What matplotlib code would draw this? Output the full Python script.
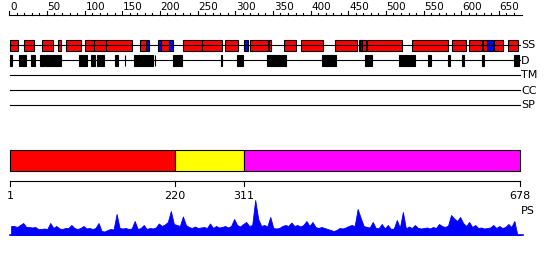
import numpy as np
import matplotlib
matplotlib.use("Agg")
import matplotlib.pyplot as plt
from matplotlib.patches import Rectangle

seq_len = 678

# secondary structure (start, end) in residues
helices = [(1, 11), (19, 33), (44, 58), (65, 69), (75, 95), (100, 113), (113, 128),
           (128, 163), (173, 182), (202, 212), (230, 256), (256, 283), (286, 304),
           (320, 343), (345, 348), (365, 380), (387, 416), (432, 461), (464, 473),
           (475, 521), (534, 583), (588, 606), (610, 627), (629, 634), (644, 655),
           (662, 675)]
strands = [(182, 185), (198, 202), (212, 218), (311, 317), (466, 468), (634, 642)]

# disordered regions
disorder = [(1, 4), (13, 22), (29, 34), (41, 46), (48, 69), (93, 103), (109, 114),
            (116, 126), (141, 144), (153, 154), (165, 191), (193, 194), (217, 229),
            (281, 283), (302, 310), (342, 368), (415, 434), (472, 481), (518, 538),
            (556, 560), (583, 585), (601, 603), (627, 630), (670, 677)]

# domain segments
dom_start = [1, 220, 311]
dom_end = [220, 311, 678]
dom_colors = ["#ff0000", "#ffff00", "#ff00ff"]
dom_ticks = [1, 220, 311, 678]

# PS profile, one value per 4 residues
ps_score = [9, 9, 8, 10, 12, 8, 8, 7.5, 8, 6, 6, 6.5, 6, 12, 7, 9, 6.5, 6, 7, 7,
            10, 7, 6, 7, 9, 6.5, 7, 6, 7, 12, 4, 3.5, 5, 6, 5.5, 21, 7, 6.5, 7, 6,
            6.5, 14, 6, 7, 10, 6, 7, 6.5, 7.5, 11.5, 9, 10.5, 13, 24, 11, 10, 9, 18.5, 10, 8,
            7, 8.5, 7, 7.5, 8, 7, 11.5, 7, 9, 7.5, 8, 9, 7.5, 9, 16, 10, 8.5, 11, 13, 9,
            10, 35, 16, 9, 10, 8.5, 18, 7, 6.5, 7, 9, 10, 9, 12.5, 9, 10, 8.5, 10, 14, 9,
            13, 8, 7, 8, 7, 6, 5, 4, 5, 7, 6.5, 7.5, 9, 10, 9, 26, 17, 9, 8, 7.5,
            13, 7, 7, 11, 6.5, 10, 6, 6.5, 15, 7, 23, 6.5, 8.5, 7, 10, 7, 6.5, 7, 7.5, 6.5,
            8, 7, 11, 9, 8, 9.5, 20, 16.5, 14, 18, 12, 9, 13, 8, 10, 7, 7.5, 6.5, 7, 7.5,
            10, 7, 9, 7, 8, 11, 8, 14, 0, 0]

scale = 510 / 677.0


def px2res(px):
    return 1 + (px - 10) / scale


fig = plt.figure(figsize=(5.5, 2.6), dpi=100)
ax = fig.add_axes([0, 0, 1, 1])
ax.set_xlim(px2res(0), px2res(550))
ax.set_ylim(260, 0)
ax.axis("off")

lw = 0.8
x_end = seq_len
x_lab = px2res(521)

# ruler
ax.plot([0, px2res(521.5)], [15, 15], color="black", lw=lw)
for t in range(0, 680, 10):
    h = 4 if t % 50 == 0 else 2.5
    ax.plot([t, t], [15, 15 - h], color="black", lw=lw)
    if t % 50 == 0:
        ax.text(t + 1, 6.5, str(t), fontsize=7.5, ha="left", va="center")

# SS track
ax.plot([1, x_end], [45, 45], color="black", lw=lw)
for s, e in helices:
    ax.add_patch(Rectangle((s, 40), e - s, 11, facecolor="#ff0000", edgecolor="black", lw=lw))
for s, e in strands:
    ax.add_patch(Rectangle((s, 40), e - s, 11, facecolor="#0000ff", edgecolor="black", lw=lw))
ax.text(x_lab, 45.5, "SS", fontsize=8, ha="left", va="center")

# disorder track
ax.plot([1, x_end], [60, 60], color="black", lw=lw)
for s, e in disorder:
    ax.add_patch(Rectangle((s, 55), e - s, 11, facecolor="black", edgecolor="black", lw=lw))
ax.text(x_lab, 60.5, "D", fontsize=8, ha="left", va="center")

# empty tracks
for y, name in [(75, "TM"), (90, "CC"), (105, "SP")]:
    ax.plot([1, x_end], [y, y], color="black", lw=lw)
    ax.text(x_lab, y + 0.5, name, fontsize=8, ha="left", va="center")

# domains
for s, e, c in zip(dom_start, dom_end, dom_colors):
    ax.add_patch(Rectangle((s, 150), e - s, 21, facecolor=c, edgecolor="black", lw=lw))

ax.plot([1, x_end], [181, 181], color="black", lw=lw)
for t in dom_ticks:
    ax.plot([t, t], [181, 186], color="black", lw=lw)
    ax.text(t, 196, str(t), fontsize=8, ha="center", va="center")

# PS profile
ps = np.array(ps_score)
pos = np.arange(len(ps)) * 4 + 2.5
ax.fill_between(pos, 235, 235 - ps, color="#0000ff", lw=0.6, edgecolor="#0000ff")
ax.plot([1, px2res(523)], [235, 235], color="#0000ff", lw=1.2)
ax.text(x_lab, 211, "PS", fontsize=8, ha="left", va="center")

fig.savefig("out.png", dpi=100)
